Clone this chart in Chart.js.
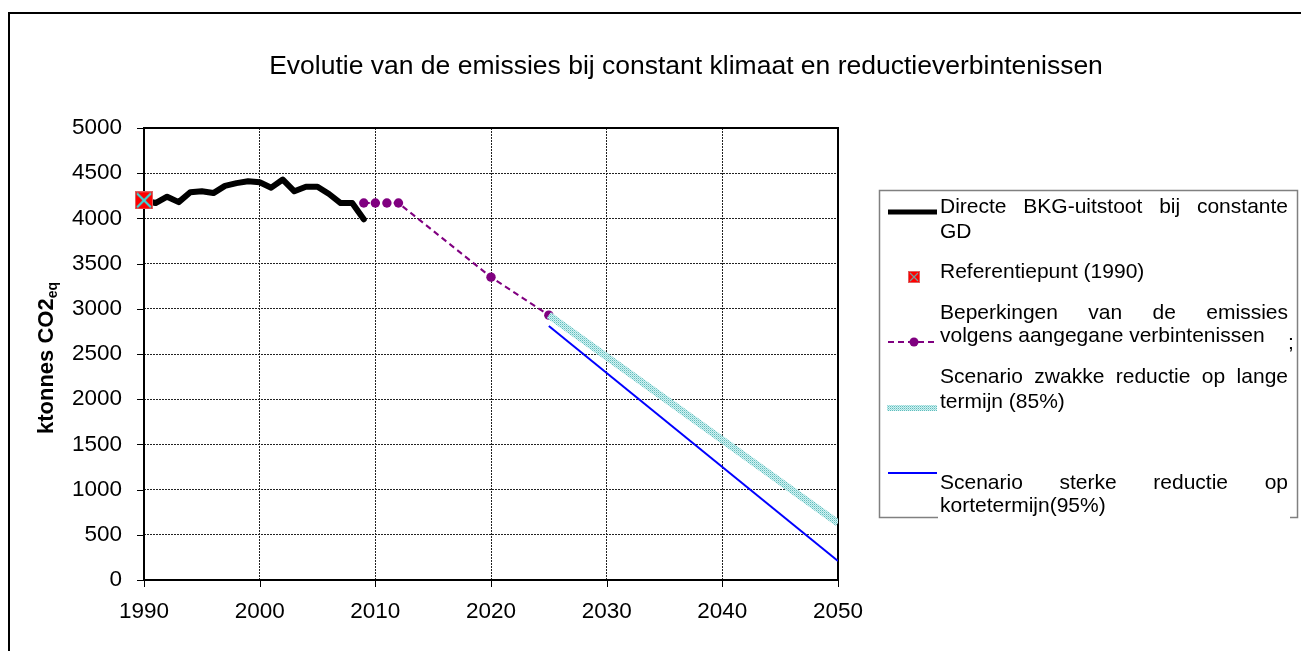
<!DOCTYPE html>
<html>
<head>
<meta charset="utf-8">
<script src="https://cdn.jsdelivr.net/npm/chart.js@4.4.1/dist/chart.umd.min.js"></script>
<style>
  html, body { margin: 0; padding: 0; background: #fff; }
  #wrap { position: relative; width: 1301px; height: 651px; }
</style>
</head>
<body>
<div id="wrap"><canvas id="c" width="1301" height="651"></canvas></div>
<script>
// Historical emissions (ktonnes CO2eq) at constant climate
const histYears = [1990,1991,1992,1993,1994,1995,1996,1997,1998,1999,2000,2001,2002,2003,2004,2005,2006,2007,2008,2009];
const histValues = [4200,4170,4240,4180,4290,4300,4280,4360,4390,4410,4400,4340,4430,4300,4350,4350,4270,4170,4170,3990];

// Reference point
const refYear = [1990];
const refValue = [4200];

// Commitments path
const commitYears = [2009,2010,2011,2012,2020,2025];
const commitValues = [4170,4170,4170,4170,3350,2930];

// Long-term scenarios
const weakYears = [2025,2050];
const weakValues = [2930,630];
const strongYears = [2025,2050];
const strongValues = [2810,210];

// Axis ticks
const xTicks = [1990,2000,2010,2020,2030,2040,2050];
const yTicks = [0,500,1000,1500,2000,2500,3000,3500,4000,4500,5000];

const titleText = 'Evolutie van de emissies bij constant klimaat en reductieverbintenissen';
const FONT = '"Liberation Sans", Arial, sans-serif';

const toXY = (xs, ys) => xs.map((x, i) => ({x: x, y: ys[i]}));

const canvas = document.getElementById('c');
const mainCtx = canvas.getContext('2d');

// hatched teal stroke
const pc = document.createElement('canvas');
pc.width = 2; pc.height = 2;
const pctx = pc.getContext('2d');
pctx.fillStyle = '#d2f2f2'; pctx.fillRect(0, 0, 2, 2);
pctx.fillStyle = '#5fbcbc'; pctx.fillRect(0, 0, 1, 1);
pctx.fillStyle = '#9bdada'; pctx.fillRect(1, 1, 1, 1);
const tealPattern = mainCtx.createPattern(pc, 'repeat');

// red square with cyan cross marker
function makeRefMarker(size, crossColor, crossWidth) {
  const m = document.createElement('canvas');
  m.width = size; m.height = size;
  const c = m.getContext('2d');
  c.fillStyle = '#ff0000';
  c.fillRect(0, 0, size, size);
  c.strokeStyle = '#e06060';
  c.lineWidth = 1;
  c.strokeRect(0.5, 0.5, size - 1, size - 1);
  c.strokeStyle = crossColor;
  c.lineWidth = crossWidth;
  c.beginPath();
  c.moveTo(2, 2); c.lineTo(size - 2, size - 2);
  c.moveTo(size - 2, 2); c.lineTo(2, size - 2);
  c.stroke();
  return m;
}
const refMarker = makeRefMarker(18, '#33dddd', 2.2);
const refMarkerSmall = makeRefMarker(12, '#7a9a9a', 1.2);

// frame, ticks, title, axis title
const decorPlugin = {
  id: 'decor',
  beforeDatasetsDraw(chart) {
    const ctx = chart.ctx;
    const a = chart.chartArea;
    const xs = chart.scales.x, ys = chart.scales.y;
    ctx.save();
    ctx.strokeStyle = '#000';
    ctx.lineWidth = 2;
    ctx.strokeRect(a.left, a.top, a.right - a.left, a.bottom - a.top);
    ctx.lineWidth = 1;
    ctx.beginPath();
    yTicks.forEach(v => {
      const y = Math.round(ys.getPixelForValue(v)) + 0.5;
      ctx.moveTo(a.left - 7, y); ctx.lineTo(a.left, y);
    });
    xTicks.forEach(v => {
      const x = Math.round(xs.getPixelForValue(v)) + 0.5;
      ctx.moveTo(x, a.bottom); ctx.lineTo(x, a.bottom + 7);
    });
    ctx.stroke();
    ctx.restore();
  },
  afterDraw(chart) {
    const ctx = chart.ctx;
    ctx.save();
    // outer frame
    ctx.strokeStyle = '#000';
    ctx.lineWidth = 2;
    ctx.beginPath();
    ctx.moveTo(9, 651); ctx.lineTo(9, 13); ctx.lineTo(1301, 13);
    ctx.stroke();

    // title
    ctx.fillStyle = '#000';
    ctx.font = '26.5px ' + FONT;
    ctx.textAlign = 'center';
    ctx.textBaseline = 'middle';
    ctx.fillText(titleText, 686, 67);

    // y axis title with subscript
    ctx.translate(47, 358);
    ctx.rotate(-Math.PI / 2);
    ctx.textAlign = 'left';
    ctx.textBaseline = 'middle';
    ctx.font = 'bold 22px ' + FONT;
    const main = 'ktonnes CO2';
    const w1 = ctx.measureText(main).width;
    ctx.font = 'bold 14px ' + FONT;
    const w2 = ctx.measureText('eq').width;
    const x0 = -(w1 + w2) / 2;
    ctx.font = 'bold 22px ' + FONT;
    ctx.fillText(main, x0, 0);
    ctx.font = 'bold 14px ' + FONT;
    ctx.fillText('eq', x0 + w1, 6);
    ctx.restore();
  }
};

// legend box
function justified(ctx, text, x0, x1, y) {
  const words = text.split(' ');
  const widths = words.map(w => ctx.measureText(w).width);
  const total = widths.reduce((s, w) => s + w, 0);
  const gap = (x1 - x0 - total) / (words.length - 1);
  let x = x0;
  words.forEach((w, i) => { ctx.fillText(w, x, y); x += widths[i] + gap; });
}

const legendPlugin = {
  id: 'boxLegend',
  afterDraw(chart) {
    const ctx = chart.ctx;
    ctx.save();
    ctx.strokeStyle = '#808080';
    ctx.lineWidth = 1.5;
    ctx.strokeRect(879.5, 190.5, 418, 327);
    ctx.fillStyle = '#fff';
    ctx.fillRect(938, 512, 352, 10);

    // samples
    ctx.strokeStyle = '#000';
    ctx.lineWidth = 5;
    ctx.beginPath(); ctx.moveTo(888, 212); ctx.lineTo(937, 212); ctx.stroke();

    ctx.drawImage(refMarkerSmall, 908, 271);

    ctx.strokeStyle = '#800080';
    ctx.lineWidth = 2;
    ctx.setLineDash([6, 4]);
    ctx.beginPath(); ctx.moveTo(888, 342); ctx.lineTo(937, 342); ctx.stroke();
    ctx.setLineDash([]);
    ctx.fillStyle = '#800080';
    ctx.beginPath(); ctx.arc(914, 342, 4.5, 0, Math.PI * 2); ctx.fill();

    ctx.fillStyle = tealPattern;
    ctx.fillRect(887, 405, 50, 6);

    ctx.strokeStyle = '#0000ff';
    ctx.lineWidth = 2;
    ctx.beginPath(); ctx.moveTo(888, 473); ctx.lineTo(937, 473); ctx.stroke();

    // texts
    ctx.fillStyle = '#000';
    ctx.font = '21px ' + FONT;
    ctx.textAlign = 'left';
    ctx.textBaseline = 'middle';
    justified(ctx, 'Directe BKG-uitstoot bij constante', 940, 1288, 207);
    ctx.fillText('GD', 940, 232);
    ctx.fillText('Referentiepunt (1990)', 940, 272);
    justified(ctx, 'Beperkingen van de emissies', 940, 1288, 313);
    ctx.fillText('volgens aangegane verbintenissen', 940, 336);
    ctx.fillText(';', 1288, 343);
    justified(ctx, 'Scenario zwakke reductie op lange', 940, 1288, 377);
    ctx.fillText('termijn (85%)', 940, 402);
    justified(ctx, 'Scenario sterke reductie op', 940, 1288, 483);
    ctx.fillText('kortetermijn(95%)', 940, 506);
    ctx.restore();
  }
};

new Chart(canvas, {
  type: 'line',
  data: {
    datasets: [
      {
        label: 'Referentiepunt (1990)',
        data: toXY(refYear, refValue),
        showLine: false,
        clip: false,
        pointStyle: refMarker,
        pointRadius: 9
      },
      {
        label: 'Directe BKG-uitstoot bij constante GD',
        data: toXY(histYears, histValues),
        borderColor: '#000',
        borderWidth: 6,
        borderJoinStyle: 'round',
        borderCapStyle: 'round',
        pointRadius: 0,
        tension: 0
      },
      {
        label: 'Scenario zwakke reductie op lange termijn (85%)',
        data: toXY(weakYears, weakValues),
        borderColor: tealPattern,
        borderWidth: 7,
        borderCapStyle: 'butt',
        pointRadius: 0
      },
      {
        label: 'Scenario sterke reductie op kortetermijn(95%)',
        data: toXY(strongYears, strongValues),
        borderColor: '#0000ff',
        borderWidth: 2,
        pointRadius: 0
      },
      {
        label: 'Beperkingen van de emissies volgens aangegane verbintenissen',
        data: toXY(commitYears, commitValues),
        borderColor: '#800080',
        borderWidth: 2,
        borderDash: [6, 4],
        pointRadius: 4.7,
        pointBackgroundColor: '#800080',
        pointBorderColor: '#800080',
        pointBorderWidth: 0
      }
    ]
  },
  options: {
    responsive: false,
    animation: false,
    events: [],
    layout: { padding: { left: 0, top: 128, right: 463, bottom: 0 } },
    plugins: { legend: { display: false }, tooltip: { enabled: false }, title: { display: false } },
    scales: {
      x: {
        type: 'linear',
        min: 1990, max: 2050,
        afterFit(s) { s.height = 71; },
        afterBuildTicks(s) { s.ticks = xTicks.map(v => ({value: v})); },
        ticks: { color: '#000', font: { family: FONT, size: 22.5 }, padding: 18, maxRotation: 0,
                 callback: v => String(v) },
        grid: { color: '#222', lineWidth: 1, drawTicks: false },
        border: { display: false, dash: [2, 1] }
      },
      y: {
        min: 0, max: 5000,
        afterFit(s) { s.width = 144; },
        afterBuildTicks(s) { s.ticks = yTicks.map(v => ({value: v})); },
        ticks: { color: '#000', font: { family: FONT, size: 22.5 }, padding: 22,
                 callback: v => String(v) },
        grid: { color: '#222', lineWidth: 1, drawTicks: false },
        border: { display: false, dash: [2, 1] }
      }
    }
  },
  plugins: [decorPlugin, legendPlugin]
});
</script>
</body>
</html>
